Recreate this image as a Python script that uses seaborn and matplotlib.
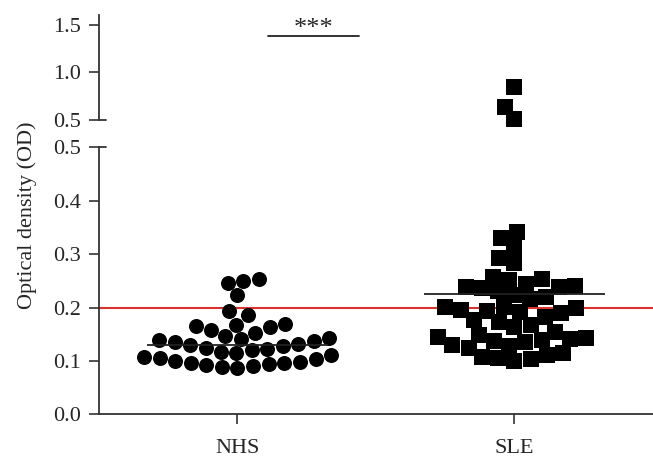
import numpy as np
import pandas as pd
import seaborn as sns
import matplotlib.pyplot as plt

groups = ['NHS', 'SLE']

# optical density, one value per subject
nhs_od = [0.253, 0.250, 0.245, 0.223, 0.193, 0.186, 0.170, 0.168, 0.166, 0.163,
          0.158, 0.152, 0.146, 0.143, 0.141, 0.139, 0.137, 0.135, 0.132, 0.130,
          0.128, 0.125, 0.122, 0.120, 0.117, 0.114, 0.111, 0.108, 0.106, 0.103,
          0.100, 0.098, 0.097, 0.096, 0.094, 0.092, 0.090, 0.088, 0.086]
sle_od = [0.847, 0.639, 0.507,
          0.342, 0.331, 0.313, 0.292, 0.283, 0.258, 0.253, 0.251, 0.244, 0.240,
          0.239, 0.238, 0.236, 0.230, 0.223, 0.220, 0.215, 0.201, 0.201, 0.200,
          0.195, 0.194, 0.192, 0.189, 0.183, 0.176, 0.173, 0.167, 0.164, 0.155,
          0.148, 0.145, 0.143, 0.141, 0.139, 0.138, 0.136, 0.130, 0.127, 0.125,
          0.114, 0.111, 0.108, 0.105, 0.103, 0.099]
# mean bars as drawn in the reference
group_means = [0.130, 0.225]

cutoff = 0.2
break_at = 0.5
low_ticks = [0.0, 0.1, 0.2, 0.3, 0.4, 0.5]
high_ticks = [0.5, 1.0, 1.5]
signif = '***'

df = pd.DataFrame({'group': ['NHS'] * len(nhs_od) + ['SLE'] * len(sle_od),
                   'od': nhs_od + sle_od})
low = df[df.od <= break_at]
high = df[df.od > break_at]

sns.set_style('ticks')
plt.rcParams['font.family'] = ['Liberation Serif', 'DejaVu Serif']
dark = '#333333'
plt.rcParams['axes.edgecolor'] = dark
plt.rcParams['axes.linewidth'] = 1.3

fig = plt.figure(figsize=(6.53, 4.62), dpi=100)
ax = fig.add_axes([0.1516, 0.1032, 0.8484, 0.578])
ax_top = fig.add_axes([0.1516, 0.7403, 0.8484, 0.2273])

markers = {'NHS': 'o', 'SLE': 's'}
sizes = {'NHS': 10.8, 'SLE': 11.3}
for g in groups:
    sns.swarmplot(data=low[low.group == g], x='group', y='od', order=groups,
                  marker=markers[g], size=sizes[g], color='black', linewidth=0,
                  warn_thresh=1, ax=ax)
sns.swarmplot(data=high, x='group', y='od', order=groups, marker='s',
              size=sizes['SLE'], color='black', linewidth=0,
              warn_thresh=1, ax=ax_top)
for c in ax_top.collections:
    c.set_clip_on(False)

# mean bars and cut-off
for i, m in enumerate(group_means):
    ax.hlines(m, i - 0.325, i + 0.325, color='#222222', lw=1.3, zorder=5)
ax.axhline(cutoff, color='#d8312e', lw=1.5, zorder=0.5)

# lower panel
ax.set_xlim(-0.5, 1.5)
ax.set_ylim(0, break_at)
ax.set_yticks(low_ticks)
ax.set_yticklabels([f'{t:.1f}' for t in low_ticks])
ax.set_xlabel('')
ax.set_ylabel('')
ax.tick_params(axis='y', length=7.2, width=1.2, pad=6, labelsize=16, color=dark)
ax.tick_params(axis='x', length=7.2, width=1.2, pad=10.5, labelsize=16, color=dark)
sns.despine(ax=ax)

# upper panel
ax_top.set_xlim(-0.5, 1.5)
ax_top.set_ylim(break_at, 1.6)
ax_top.set_yticks(high_ticks)
ax_top.set_yticklabels([f'{t:.1f}' for t in high_ticks])
ax_top.set_xticks([])
ax_top.set_xlabel('')
ax_top.set_ylabel('')
ax_top.tick_params(axis='y', length=7.2, width=1.2, pad=6, labelsize=16, color=dark)
sns.despine(ax=ax_top, bottom=True)

# break marks on the axis
ax.plot([0, 0.012], [1, 1], transform=ax.transAxes, color=dark, lw=1.3, clip_on=False)
ax_top.plot([0, 0.012], [0, 0], transform=ax_top.transAxes, color=dark, lw=1.3, clip_on=False)

# significance bracket
ax_top.plot([0.11, 0.44], [1.378, 1.378], color='#222222', lw=1.3, clip_on=False)
ax_top.text(0.275, 1.385, signif, ha='center', va='baseline', fontsize=19)

fig.text(0.041, 0.535, 'Optical density (OD)', rotation=90, ha='center',
         va='center', fontsize=16)

fig.savefig('out.png', dpi=100)
